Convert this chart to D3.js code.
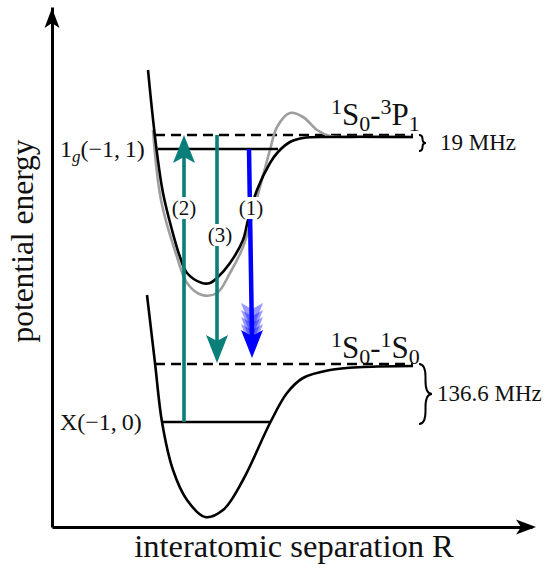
<!DOCTYPE html>
<html>
<head>
<meta charset="utf-8">
<script src="https://cdn.jsdelivr.net/npm/d3@7"></script>
<style>
  body { margin: 0; background: #fff; }
  svg { display: block; }
  text { font-family: "Liberation Serif", "DejaVu Serif", serif; fill: #111; }
</style>
</head>
<body>
<svg id="chart" width="548" height="569"></svg>
<script>
// ---- potential curves, [R, E] in arbitrary units ----
const excitedCurve = [
  [9.6, 45.7], [10.0, 41.7], [10.5, 37.4], [11.1, 33.4], [12.0, 29.7], [12.8, 27.0],
  [13.5, 25.4], [15.0, 24.4], [15.8, 24.4], [16.5, 24.9], [17.8, 26.4], [19.1, 28.7],
  [19.6, 30.7], [20.5, 33.7], [21.8, 36.4], [22.6, 37.5], [23.8, 38.5], [25.1, 38.9],
  [27.8, 39.0], [36.1, 39.0]
];
const excitedCurveAlt = [
  [10.1, 39.7], [10.9, 32.7], [12.5, 27.0], [13.5, 24.4], [15.0, 23.2], [16.5, 23.4],
  [17.8, 25.4], [19.1, 28.0], [20.0, 31.0], [20.8, 34.0], [21.8, 37.7], [22.5, 40.0],
  [23.8, 41.4], [25.1, 41.0], [26.5, 39.7], [27.8, 39.1], [31.1, 39.0], [36.1, 39.0]
];
const groundCurve = [
  [9.5, 23.2], [10.3, 16.4], [11.0, 10.5], [12.1, 5.7], [13.5, 2.7], [15.3, 1.0],
  [17.1, 1.7], [19.1, 4.7], [21.8, 10.4], [23.5, 13.4], [25.1, 14.9], [27.8, 15.7],
  [31.1, 16.0], [36.1, 16.1]
];

// ---- bound levels and dissociation thresholds ----
const boundLevels = [
  { R0: 10.6, R1: 22.6, E: 37.8 },   // 1g(-1,1)
  { R0: 11.0, R1: 21.8, E: 10.5 }    // X(-1,0)
];
const thresholds = [
  { R0: 10.3, R1: 36.1, E: 39.2 },   // 1S0-3P1
  { R0: 10.3, R1: 36.1, E: 16.3 }    // 1S0-1S0
];
const bindingEnergies = ["19 MHz", "136.6 MHz"];
const bindingSpans = [[39.2, 37.6], [16.3, 10.3]];

// ---- transitions ----
const transitions = [
  { tag: "(2)", R0: 13.2, R1: 13.2, from: 10.5, to: 39.2, color: "#0a7f7a", labelR: 13.2, labelE: 31.9 },
  { tag: "(3)", R0: 16.5, R1: 16.5, from: 39.2, to: 16.4, color: "#0a7f7a", labelR: 16.8, labelE: 29.2 },
  { tag: "(1)", R0: 19.7, R1: 20.0, from: 37.8, to: 16.9, color: "#0000ff", labelR: 19.9, labelE: 31.9 }
];

const svg = d3.select("#chart");
const x = d3.scaleLinear().domain([0, 48]).range([52, 532]);
const y = d3.scaleLinear().domain([0, 52]).range([527, 7]);

const line = d3.line().x(d => x(d[0])).y(d => y(d[1])).curve(d3.curveCatmullRom.alpha(0.5));

// stealth-style arrow head; tip at (tx,ty), dir = unit vector of travel
function headPath(tx, ty, dx, dy, len, half, notch) {
  const bx = tx - dx * len, by = ty - dy * len;
  const nx = -dy, ny = dx;
  const nxp = tx - dx * (len - notch), nyp = ty - dy * (len - notch);
  return `M${tx},${ty}L${bx + nx * half},${by + ny * half}L${nxp},${nyp}L${bx - nx * half},${by - ny * half}Z`;
}

// ---- axes ----
const xAxis = svg.append("g").attr("transform", `translate(0,${y(0)})`)
  .call(d3.axisBottom(x).tickValues([]).tickSizeOuter(0));
const yAxis = svg.append("g").attr("transform", `translate(${x(0)},0)`)
  .call(d3.axisLeft(y).tickValues([]).tickSizeOuter(0));
[xAxis, yAxis].forEach(g => g.select(".domain").attr("stroke", "#000").attr("stroke-width", 3));
svg.append("path").attr("d", headPath(x(48) + 4, y(0), 1, 0, 20, 7.5, 5)).attr("fill", "#000");
svg.append("path").attr("d", headPath(x(0), y(52) + 1, 0, -1, 20, 7.5, 5)).attr("fill", "#000");

// ---- threshold (dashed) lines ----
svg.selectAll(".thr").data(thresholds).join("line")
  .attr("x1", d => x(d.R0)).attr("x2", d => x(d.R1))
  .attr("y1", d => y(d.E)).attr("y2", d => y(d.E))
  .attr("stroke", "#000").attr("stroke-width", 2.6).attr("stroke-dasharray", "10,6");

// ---- curves ----
svg.append("path").datum(excitedCurveAlt).attr("d", line)
  .attr("fill", "none").attr("stroke", "#9e9e9e").attr("stroke-width", 2.6);
svg.append("path").datum(excitedCurve).attr("d", line)
  .attr("fill", "none").attr("stroke", "#000").attr("stroke-width", 2.6);
svg.append("path").datum(groundCurve).attr("d", line)
  .attr("fill", "none").attr("stroke", "#000").attr("stroke-width", 2.6);

// ---- bound levels ----
svg.selectAll(".lvl").data(boundLevels).join("line")
  .attr("x1", d => x(d.R0)).attr("x2", d => x(d.R1))
  .attr("y1", d => y(d.E)).attr("y2", d => y(d.E))
  .attr("stroke", "#000").attr("stroke-width", 2.6);

// ---- transitions ----
const headLen = 28, headHalf = 11, headNotch = 6;
transitions.forEach(t => {
  const x0 = x(t.R0), x1 = x(t.R1), y0 = y(t.from), y1 = y(t.to);
  const dir = Math.sign(y1 - y0);
  if (t.tag === "(1)") {
    // smeared decay: stacked faint heads above the main one
    [27, 20, 13, 6].forEach(off => {
      svg.append("path")
        .attr("d", headPath(x1, y1 - off, 0, dir, headLen, headHalf, headNotch))
        .attr("fill", t.color).attr("opacity", 0.4);
    });
  }
  svg.append("line")
    .attr("x1", x0).attr("y1", y0)
    .attr("x2", x1).attr("y2", y1 - dir * (headLen - headNotch))
    .attr("stroke", t.color).attr("stroke-width", t.tag === "(1)" ? 4.5 : 3.6);
  svg.append("path").attr("d", headPath(x1, y1, 0, dir, headLen, headHalf, headNotch))
    .attr("fill", t.color);
});

// transition tags on white boxes
transitions.forEach(t => {
  const cx = x(t.labelR), cy = y(t.labelE);
  svg.append("rect").attr("x", cx - 12).attr("y", cy - 11).attr("width", 24).attr("height", 22)
    .attr("fill", "#fff");
  svg.append("text").attr("x", cx).attr("y", cy + 7).attr("text-anchor", "middle")
    .attr("font-size", 21).text(t.tag);
});

// ---- state labels ----
const lbl1 = svg.append("text").attr("x", 60).attr("y", y(boundLevels[0].E) + 8).attr("font-size", 24);
lbl1.append("tspan").text("1");
lbl1.append("tspan").attr("font-size", 17).attr("font-style", "italic").attr("dy", 5).text("g");
lbl1.append("tspan").attr("dy", -5).text("(−1,\u20091)");

svg.append("text").attr("x", 60).attr("y", y(boundLevels[1].E) + 8).attr("font-size", 24)
  .text("X(−1,\u20090)");

function asymptoteLabel(yPos, parts) {
  const t = svg.append("text").attr("x", 331).attr("y", yPos).attr("font-size", 31);
  let shift = 0;
  parts.forEach(([s, kind]) => {
    const target = kind === "sup" ? -11 : kind === "sub" ? 6 : 0;
    const ts = t.append("tspan").attr("dy", target - shift).text(s);
    if (kind) ts.attr("font-size", 22);
    shift = target;
  });
}
asymptoteLabel(y(thresholds[0].E) - 10, [["1", "sup"], ["S", ""], ["0", "sub"], ["-", ""], ["3", "sup"], ["P", ""], ["1", "sub"]]);
asymptoteLabel(y(thresholds[1].E) - 6, [["1", "sup"], ["S", ""], ["0", "sub"], ["-", ""], ["1", "sup"], ["S", ""], ["0", "sub"]]);

// ---- braces with binding energies ----
function brace(x0, ya, yb, w) {
  const m = (ya + yb) / 2, r = Math.min(w, (yb - ya) / 4), h = w / 2;
  return `M${x0},${ya}Q${x0 + h},${ya} ${x0 + h},${ya + r}L${x0 + h},${m - r}Q${x0 + h},${m} ${x0 + w},${m}` +
         `Q${x0 + h},${m} ${x0 + h},${m + r}L${x0 + h},${yb - r}Q${x0 + h},${yb} ${x0},${yb}`;
}
bindingSpans.forEach((s, i) => {
  const ya = y(s[0]), yb = y(s[1]);
  const w = i === 0 ? 7 : 13;
  svg.append("path").attr("d", brace(x(36.7), ya, yb, w))
    .attr("fill", "none").attr("stroke", "#000").attr("stroke-width", 2);
  svg.append("text").attr("x", i === 0 ? 440 : 437).attr("y", (ya + yb) / 2 + 7)
    .attr("font-size", 23).text(bindingEnergies[i]);
});

// ---- axis titles ----
svg.append("text").attr("x", 294).attr("y", 557).attr("text-anchor", "middle")
  .attr("font-size", 32.5).text("interatomic separation R");
svg.append("text").attr("transform", `translate(33,241) rotate(-90)`).attr("text-anchor", "middle")
  .attr("font-size", 31.5).text("potential energy");
</script>
</body>
</html>
